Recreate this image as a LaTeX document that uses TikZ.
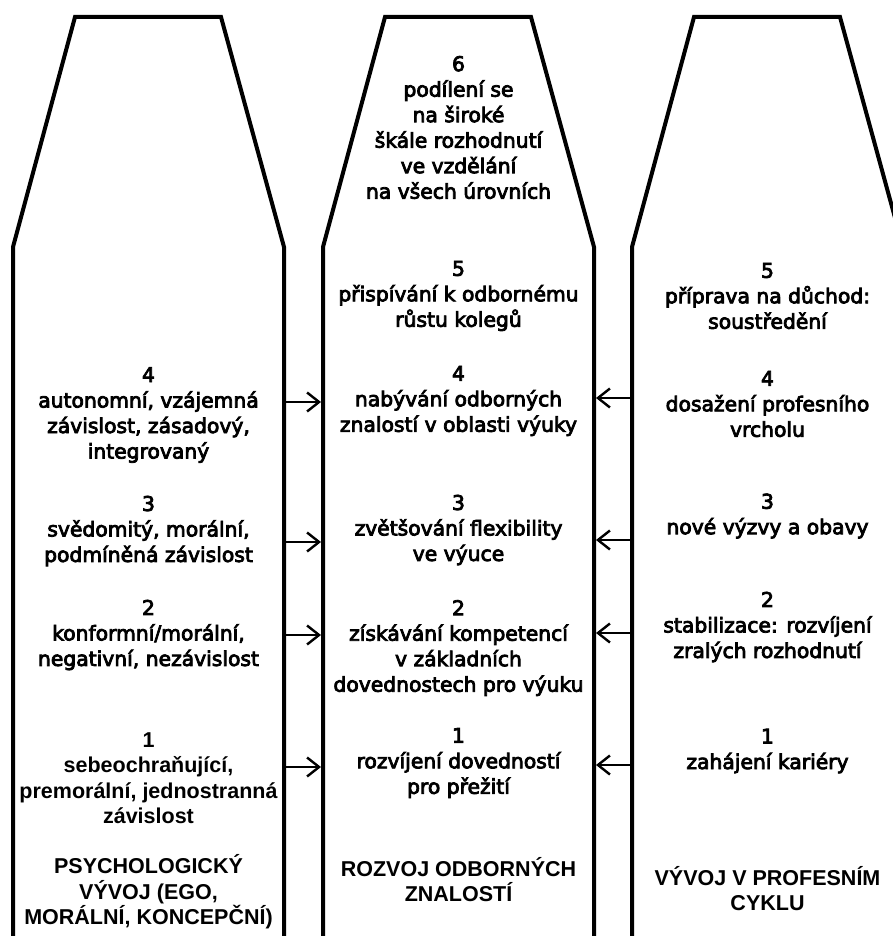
\documentclass[tikz,border=0pt]{standalone}
\usepackage{fontspec}
\usetikzlibrary{arrows.meta, positioning}
\newfontfamily\stagefont{DejaVu Sans}
\newfontfamily\titlefont{Liberation Sans}
% heavier strokes for the stage texts
\newcommand{\heavyon}{\special{pdf:literal direct 2 Tr 0.8 w}}
\newcommand{\heavyoff}{\special{pdf:literal direct 0 Tr}}

\begin{document}
\begin{tikzpicture}[x=1pt, y=-1pt,
        pillar/.style={line width=4pt, line join=miter},
        stage/.style={align=center, inner sep=0pt, font=\stagefont\fontsize{20.3}{25.5}\selectfont,
            execute at begin node=\heavyon, execute at end node=\heavyoff},
        heading/.style={align=center, inner sep=0pt, font=\titlefont\bfseries\fontsize{21.5}{25.5}\selectfont},
        arrow/.style={-{Straight Barb[length=12pt, width=19pt]}, line width=2.4pt, shorten >=2pt}
    ]
        \useasboundingbox (0,0) rectangle (893,936);
        \clip (0,0) rectangle (893,936);

        % the three pillars
        \draw[pillar] (13,945) -- (13,247) -- (75,17) -- (221,17) -- (284,247) -- (284,945);
        \draw[pillar] (323,945) -- (323,247) -- (385,17) -- (531,17) -- (594,247) -- (594,945);
        \draw[pillar] (632,945) -- (632,247) -- (694,17) -- (840,17) -- (903,247) -- (903,945);

        % psychological development
        \node[stage] (psych4) at (148.5,415) {4\\autonomní, vzájemná\\závislost, zásadový,\\integrovaný};
        \node[stage] (psych3) at (148.5,531) {3\\svědomitý, morální,\\podmíněná závislost};
        \node[stage] (psych2) at (148.5,635) {2\\konformní/morální,\\negativní, nezávislost};
        \node[heading] (psych1) at (148.5,778) {1\\sebeochraňující,\\premorální, jednostranná\\závislost};
        \node[heading] (psychhead) at (148.5,892) {PSYCHOLOGICKÝ\\VÝVOJ (EGO,\\MORÁLNÍ, KONCEPČNÍ)};

        % professional knowledge
        \node[stage] (know6) at (458.5,127.5) {6\\podílení se\\na široké\\škále rozhodnutí\\ve vzdělání\\na všech úrovních};
        \node[stage] (know5) at (458.5,296) {5\\přispívání k odbornému\\růstu kolegů};
        \node[stage] (know4) at (458.5,401) {4\\nabývání odborných\\znalostí v oblasti výuky};
        \node[stage] (know3) at (458.5,530) {3\\zvětšování flexibility\\ve výuce};
        \node[stage] (know2) at (458.5,648) {2\\získávání kompetencí\\v základních\\dovednostech pro výuku};
        \node[stage] (know1) at (458.5,763) {1\\rozvíjení dovedností\\pro přežití};
        \node[heading] (knowhead) at (458.5,879.5) {ROZVOJ ODBORNÝCH\\ZNALOSTÍ};

        % career cycle
        \node[stage] (cycle5) at (767.5,296) {5\\příprava na důchod:\\soustředění};
        \node[stage] (cycle4) at (767.5,404) {4\\dosažení profesního\\vrcholu};
        \node[stage] (cycle3) at (767.5,516) {3\\nové výzvy a obavy};
        \node[stage] (cycle2) at (767.5,627) {2\\stabilizace: rozvíjení\\zralých rozhodnutí};
        \node[stage] (cycle1) at (767.5,751) {1\\zahájení kariéry};
        \node[heading] (cyclehead) at (767.5,888.5) {VÝVOJ V PROFESNÍM\\CYKLU};

        % links into the middle pillar
        \foreach \y/\n in {402/4, 542/3, 635/2, 767/1} {
            \coordinate (psychout\n) at (284,\y);
            \coordinate (knowleft\n) at (323,\y);
            \draw[arrow] (psychout\n) -- (knowleft\n);
        }
        \foreach \y/\n in {398/4, 540/3, 633/2, 765/1} {
            \coordinate (cycleout\n) at (632,\y);
            \coordinate (knowright\n) at (594,\y);
            \draw[arrow] (cycleout\n) -- (knowright\n);
        }
    \end{tikzpicture}
\end{document}
